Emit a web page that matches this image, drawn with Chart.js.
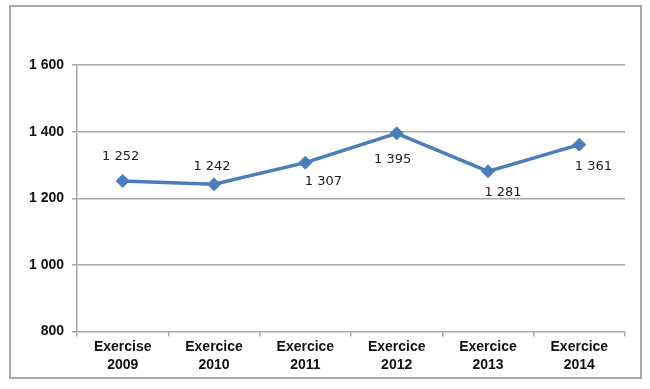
<!DOCTYPE html>
<html>
<head>
<meta charset="utf-8">
<script src="https://cdn.jsdelivr.net/npm/chart.js@4.4.0/dist/chart.umd.min.js"></script>
<style>
  html, body { margin: 0; padding: 0; background: #fff; }
  #frame {
    position: absolute;
    left: 9px; top: 5px;
    width: 633px; height: 374px;
    box-sizing: border-box;
    border: 2px solid #a9a9a9;
    background: #fff;
  }
  #frame canvas { display: block; }
</style>
</head>
<body>
<div id="frame"><canvas id="lineChart" width="629" height="370"></canvas></div>
<script>
// chart data
const categories = [
    ['Exercise', '2009'],
    ['Exercice', '2010'],
    ['Exercice', '2011'],
    ['Exercice', '2012'],
    ['Exercice', '2013'],
    ['Exercice', '2014']
];
const values = [1252, 1242, 1307, 1395, 1281, 1361];
const yTicks = [800, 1000, 1200, 1400, 1600];

// where each value label sits relative to its point (dx, dy)
const labelOffsets = [[-2, -24], [-2, -18], [18, 19], [-4, 26], [15, 21], [14, 22]];

function spaced(n) {
    return String(n).replace(/\B(?=(\d{3})+(?!\d))/g, ' ');
}

const valueLabels = {
    id: 'valueLabels',
    afterDatasetsDraw(chart) {
        const ctx = chart.ctx;
        const meta = chart.getDatasetMeta(0);
        ctx.save();
        ctx.font = '13px "DejaVu Sans", sans-serif';
        ctx.fillStyle = '#1a1a1a';
        ctx.textAlign = 'center';
        ctx.textBaseline = 'middle';
        meta.data.forEach((pt, i) => {
            const off = labelOffsets[i];
            ctx.fillText(spaced(values[i]), pt.x + off[0], pt.y + off[1]);
        });
        ctx.restore();
    }
};

let lineChart = new Chart(document.getElementById('lineChart'), {
    type: 'line',
    data: {
        labels: categories,
        datasets: [{
            data: values,
            borderColor: '#4a7ebb',
            backgroundColor: '#4a7ebb',
            borderWidth: 3.5,
            pointStyle: 'rectRot',
            pointRadius: 6.5,
            pointBorderWidth: 1,
            pointBackgroundColor: '#4a7ebb',
            tension: 0
        }]
    },
    options: {
        responsive: false,
        animation: false,
        layout: {
            padding: { left: 10, right: 15, top: 58, bottom: 2 }
        },
        plugins: {
            legend: { display: false },
            tooltip: { enabled: false }
        },
        scales: {
            x: {
                offset: true,
                grid: {
                    offset: true,
                    drawOnChartArea: false,
                    drawTicks: true,
                    tickLength: 5,
                    color: '#a8a8a8',
                    lineWidth: 1.5
                },
                border: { display: false },
                ticks: {
                    color: '#111',
                    padding: 1,
                    maxRotation: 0,
                    autoSkip: false,
                    font: { family: '"Liberation Sans", Arial, sans-serif', size: 14, weight: 'bold', lineHeight: 1.3 }
                }
            },
            y: {
                min: 800,
                max: 1600,
                afterBuildTicks: (axis) => {
                    axis.ticks = yTicks.map(v => ({ value: v }));
                },
                grid: {
                    color: '#a8a8a8',
                    lineWidth: 1.5,
                    tickLength: 5
                },
                border: { display: true, color: '#a8a8a8', width: 1.5 },
                ticks: {
                    color: '#111',
                    padding: 8,
                    callback: (v) => spaced(v),
                    font: { family: '"Liberation Sans", Arial, sans-serif', size: 14, weight: 'bold' }
                }
            }
        }
    },
    plugins: [valueLabels]
});
</script>
</body>
</html>
